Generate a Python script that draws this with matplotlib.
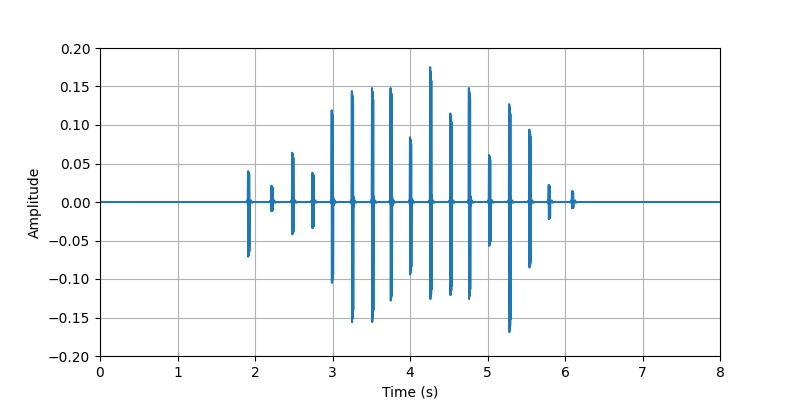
import numpy as np
import matplotlib
matplotlib.use("Agg")
import matplotlib.pyplot as plt

# Spike (click) times in seconds and their positive / negative peaks
spike_times = [1.91, 2.21, 2.48, 2.74, 2.99, 3.25, 3.51, 3.75, 4.00, 4.26,
               4.52, 4.76, 5.02, 5.28, 5.54, 5.79, 6.09]
spike_max = [0.040, 0.021, 0.064, 0.038, 0.119, 0.144, 0.148, 0.148, 0.084, 0.175,
             0.115, 0.148, 0.061, 0.127, 0.094, 0.022, 0.014]
spike_min = [-0.071, -0.012, -0.042, -0.034, -0.105, -0.156, -0.156, -0.128, -0.094, -0.126,
             -0.121, -0.126, -0.057, -0.169, -0.085, -0.022, -0.008]
# oscillation of each click (fraction of its peaks), sampled every ring_step seconds
ringing = [1.0, -1.0, 0.97, -0.97, 0.95, -0.95, 0.9, -0.9, 0.05, -0.04, 0.0]
ring_step = 0.0025
duration = 8.0

t = [0.0]
y = [0.0]
for ts, mx, mn in zip(spike_times, spike_max, spike_min):
    t += [ts - 0.02, ts - 0.01, ts - 0.004]
    y += [0.0, 0.002, -0.002]
    for k, r in enumerate(ringing):
        t.append(ts + k * ring_step)
        y.append(r * mx if r > 0 else -r * mn)
    t += [ts + 0.04, ts + 0.05, ts + 0.06]
    y += [0.002, -0.001, 0.0]
t.append(duration)
y.append(0.0)

fig, ax = plt.subplots(figsize=(8, 4), dpi=100)
ax.plot(t, y, color="#1f77b4", linewidth=1.5)
ax.set_xlim(0, 8)
ax.set_ylim(-0.2, 0.2)
ax.set_xlabel("Time (s)")
ax.set_ylabel("Amplitude")
ax.grid(True)
fig.savefig("out.png")
